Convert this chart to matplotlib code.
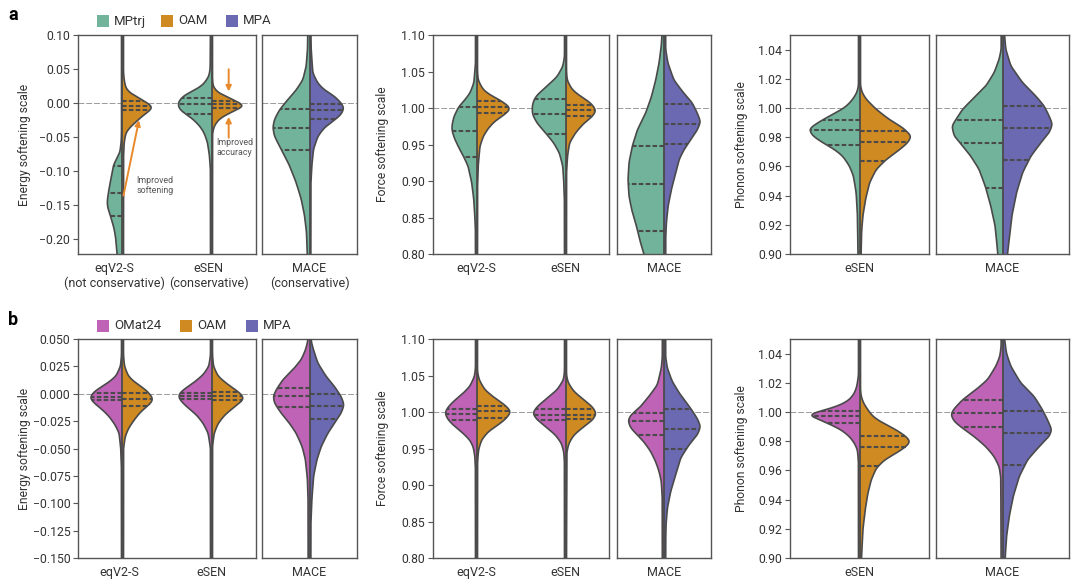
import numpy as np
import matplotlib
matplotlib.use('Agg')
import matplotlib.pyplot as plt
from matplotlib.patches import Rectangle

plt.rcParams['font.family'] = ['Roboto', 'DejaVu Sans']
plt.rcParams['axes.unicode_minus'] = True

# ---------------- colours ----------------
C_MPTRJ = '#72b49b'
C_OAM = '#cf8a22'
C_MPA = '#6b69b2'
C_OMAT = '#bf63b6'
EDGE = '#4a4a4a'
ARROW = '#e8892b'

# ---------------- categories / labels ----------------
models_a = ['eqV2-S\n(not conservative)', 'eSEN\n(conservative)', 'MACE\n(conservative)']
models_b = ['eqV2-S', 'eSEN', 'MACE']
legend_a = ['MPtrj', 'OAM', 'MPA']
legend_b = ['OMat24', 'OAM', 'MPA']

# ---------------- ticks ----------------
energy_a_ticks = [0.10, 0.05, 0.00, -0.05, -0.10, -0.15, -0.20]
energy_a_labels = ['0.10', '0.05', '0.00', '\u22120.05', '\u22120.10', '\u22120.15', '\u22120.20']
energy_b_ticks = [0.050, 0.025, 0.000, -0.025, -0.050, -0.075, -0.100, -0.125, -0.150]
energy_b_labels = ['0.050', '0.025', '0.000', '\u22120.025', '\u22120.050', '\u22120.075',
                   '\u22120.100', '\u22120.125', '\u22120.150']
force_ticks = [1.10, 1.05, 1.00, 0.95, 0.90, 0.85, 0.80]
force_labels = ['1.10', '1.05', '1.00', '0.95', '0.90', '0.85', '0.80']
phonon_ticks = [1.04, 1.02, 1.00, 0.98, 0.96, 0.94, 0.92, 0.90]
phonon_labels = ['1.04', '1.02', '1.00', '0.98', '0.96', '0.94', '0.92', '0.90']

# ---------------- density profiles (y, relative density) and quartiles ----------------
# panel a, energy
a_en_eqv2_mptrj = [(0.11, 3), (-0.045, 3), (-0.058, 4), (-0.073, 8), (-0.091, 27), (-0.107, 33),
                   (-0.12, 38), (-0.131, 42), (-0.145, 46), (-0.155, 44), (-0.166, 36),
                   (-0.185, 25), (-0.20, 20), (-0.23, 15)]
a_en_eqv2_mptrj_q = [-0.166, -0.132, -0.092]
a_en_eqv2_oam = [(0.11, 3), (0.045, 3), (0.034, 5), (0.022, 10), (0.015, 22), (0.007, 50), (0.0, 75),
                 (-0.006, 92), (-0.012, 80), (-0.019, 60), (-0.027, 42), (-0.036, 22),
                 (-0.044, 10), (-0.058, 5), (-0.08, 3), (-0.23, 3)]
a_en_eqv2_oam_q = [-0.010, -0.005, 0.003]
a_en_esen_mptrj = [(0.11, 3), (0.05, 4), (0.039, 8), (0.027, 25), (0.019, 50), (0.012, 80),
                   (0.005, 95), (-0.002, 101), (-0.010, 95), (-0.017, 75), (-0.024, 55),
                   (-0.034, 35), (-0.044, 22), (-0.058, 12), (-0.078, 6), (-0.10, 3), (-0.23, 3)]
a_en_esen_mptrj_q = [-0.016, -0.002, 0.008]
a_en_esen_oam = [(0.11, 3), (0.035, 3), (0.024, 5), (0.015, 20), (0.007, 55), (0.0, 85),
                 (-0.004, 102), (-0.010, 75), (-0.017, 45), (-0.024, 22), (-0.034, 8),
                 (-0.045, 3), (-0.23, 3)]
a_en_esen_oam_q = [-0.007, -0.002, 0.003]
a_en_mace_mptrj = [(0.11, 5), (0.078, 6), (0.054, 10), (0.034, 20), (0.019, 40), (0.005, 65),
                   (-0.010, 90), (-0.024, 105), (-0.036, 110), (-0.049, 105), (-0.068, 85),
                   (-0.092, 60), (-0.117, 40), (-0.141, 25), (-0.165, 15), (-0.19, 9), (-0.23, 6)]
a_en_mace_mptrj_q = [-0.069, -0.037, -0.009]
a_en_mace_mpa = [(0.11, 4), (0.078, 5), (0.044, 10), (0.029, 25), (0.019, 45), (0.01, 75), (0.0, 95),
                 (-0.007, 104), (-0.017, 95), (-0.027, 70), (-0.036, 45), (-0.049, 25),
                 (-0.068, 12), (-0.092, 7), (-0.12, 4), (-0.23, 4)]
a_en_mace_mpa_q = [-0.023, -0.010, -0.002]

# panel a, force
a_f_eqv2_mptrj = [(1.11, 3), (1.06, 3), (1.034, 8), (1.02, 20), (1.011, 35), (1.002, 53), (0.988, 68),
                  (0.975, 74), (0.968, 73), (0.957, 65), (0.943, 50), (0.933, 38), (0.92, 25),
                  (0.897, 14), (0.874, 8), (0.851, 5), (0.83, 3), (0.79, 3)]
a_f_eqv2_mptrj_q = [0.933, 0.968, 1.002]
a_f_eqv2_oam = [(1.11, 3), (1.05, 3), (1.038, 5), (1.025, 20), (1.018, 40), (1.011, 70), (1.004, 92),
                (1.0, 102), (0.995, 95), (0.988, 75), (0.982, 55), (0.972, 35), (0.961, 20),
                (0.947, 10), (0.92, 5), (0.89, 3), (0.79, 3)]
a_f_eqv2_oam_q = [0.993, 1.002, 1.010]
a_f_esen_mptrj = [(1.11, 3), (1.07, 3), (1.057, 8), (1.043, 25), (1.03, 55), (1.018, 85), (1.011, 95),
                  (1.002, 100), (0.991, 99), (0.979, 85), (0.966, 60), (0.952, 35), (0.938, 18),
                  (0.92, 8), (0.897, 5), (0.87, 3), (0.79, 3)]
a_f_esen_mptrj_q = [0.964, 0.992, 1.012]
a_f_esen_oam = [(1.11, 3), (1.05, 3), (1.038, 5), (1.025, 20), (1.016, 45), (1.009, 70), (1.002, 85),
                (0.996, 92), (0.988, 80), (0.979, 55), (0.966, 30), (0.952, 12), (0.934, 6),
                (0.91, 3), (0.79, 3)]
a_f_esen_oam_q = [0.989, 0.997, 1.004]
a_f_mace_mptrj = [(1.11, 5), (1.085, 8), (1.061, 15), (1.038, 25), (1.015, 38), (0.993, 55),
                  (0.970, 80), (0.948, 95), (0.925, 105), (0.902, 108), (0.879, 105), (0.857, 95),
                  (0.834, 80), (0.811, 68), (0.80, 60), (0.79, 56)]
a_f_mace_mptrj_q = [0.8315, 0.896, 0.9478]
a_f_mace_mpa = [(1.11, 5), (1.08, 5), (1.061, 12), (1.038, 30), (1.020, 60), (1.007, 85), (0.993, 100),
                (0.981, 110), (0.970, 100), (0.956, 80), (0.943, 60), (0.929, 45), (0.911, 35),
                (0.888, 22), (0.865, 12), (0.842, 7), (0.82, 5), (0.79, 5)]
a_f_mace_mpa_q = [0.951, 0.9787, 1.0056]

# panel a, phonon
a_ph_esen_mptrj = [(1.06, 3), (1.015, 3), (1.0105, 8), (1.006, 20), (1.001, 40), (0.9968, 70),
                   (0.992, 110), (0.9877, 140), (0.9854, 152), (0.9808, 140), (0.9762, 110),
                   (0.9716, 75), (0.967, 50), (0.9602, 30), (0.9533, 18), (0.9419, 10),
                   (0.9259, 6), (0.89, 4)]
a_ph_esen_mptrj_q = [0.9746, 0.9847, 0.9918]
a_ph_esen_oam = [(1.06, 3), (1.015, 3), (1.0105, 8), (1.006, 20), (0.9991, 50), (0.992, 90),
                 (0.9865, 130), (0.9808, 156), (0.9762, 145), (0.9705, 115), (0.9647, 80),
                 (0.9579, 50), (0.9487, 30), (0.9373, 18), (0.9259, 10), (0.9144, 6), (0.89, 4)]
a_ph_esen_oam_q = [0.9634, 0.9769, 0.9843]
a_ph_mace_mptrj = [(1.06, 4), (1.04, 4), (1.0334, 10), (1.0242, 25), (1.015, 50), (1.006, 90),
                   (0.9991, 120), (0.992, 140), (0.9877, 152), (0.9808, 145), (0.974, 120),
                   (0.967, 95), (0.9579, 70), (0.9453, 50), (0.9327, 35), (0.919, 22),
                   (0.90, 14), (0.89, 12)]
a_ph_mace_mptrj_q = [0.9453, 0.9762, 0.9920]
a_ph_mace_mpa = [(1.06, 5), (1.05, 6), (1.04, 10), (1.0288, 25), (1.0174, 60), (1.0082, 100),
                 (1.0014, 125), (0.9945, 140), (0.9888, 150), (0.983, 140), (0.9762, 115),
                 (0.967, 85), (0.9556, 60), (0.9419, 42), (0.9259, 28), (0.90, 15), (0.89, 13)]
a_ph_mace_mpa_q = [0.9643, 0.9865, 1.0014]

# panel b, energy
b_en_eqv2_omat = [(0.06, 3), (0.035, 3), (0.025, 6), (0.0158, 20), (0.0097, 45), (0.0051, 70),
                  (0.0005, 90), (-0.004, 98), (-0.0086, 85), (-0.0147, 60), (-0.0208, 40),
                  (-0.0285, 22), (-0.036, 10), (-0.051, 5), (-0.07, 3), (-0.16, 3)]
b_en_eqv2_omat_q = [-0.006, -0.003, 0.001]
b_en_eqv2_oam = [(0.06, 3), (0.035, 3), (0.025, 6), (0.0158, 18), (0.0097, 40), (0.0036, 70),
                 (-0.0025, 88), (-0.0056, 92), (-0.0101, 80), (-0.0163, 55), (-0.0239, 35),
                 (-0.0316, 18), (-0.0392, 8), (-0.05, 3), (-0.16, 3)]
b_en_eqv2_oam_q = [-0.0108, -0.0044, 0.001]
b_en_esen_omat = [(0.06, 3), (0.035, 3), (0.025, 8), (0.0173, 25), (0.0097, 55), (0.0036, 85),
                  (-0.001, 100), (-0.0056, 95), (-0.0117, 75), (-0.0193, 45), (-0.027, 25),
                  (-0.036, 10), (-0.05, 3), (-0.16, 3)]
b_en_esen_omat_q = [-0.0047, -0.002, 0.0011]
b_en_esen_oam = [(0.06, 3), (0.035, 3), (0.025, 6), (0.0158, 20), (0.0082, 50), (0.002, 80),
                 (-0.0025, 95), (-0.0056, 96), (-0.0117, 70), (-0.0193, 40), (-0.027, 20),
                 (-0.036, 8), (-0.048, 3), (-0.16, 3)]
b_en_esen_oam_q = [-0.0056, -0.0016, 0.0018]
b_en_mace_omat = [(0.06, 5), (0.048, 5), (0.040, 12), (0.031, 25), (0.0219, 50), (0.0128, 80),
                  (0.0036, 100), (-0.0025, 109), (-0.0086, 105), (-0.0178, 85), (-0.027, 60),
                  (-0.036, 40), (-0.0483, 22), (-0.0605, 12), (-0.079, 6), (-0.10, 4), (-0.16, 4)]
b_en_mace_omat_q = [-0.0117, -0.0025, 0.0048]
b_en_mace_mpa = [(0.06, 5), (0.048, 5), (0.040, 12), (0.028, 25), (0.0158, 50), (0.0066, 75),
                 (-0.0025, 95), (-0.0101, 104), (-0.0178, 95), (-0.027, 75), (-0.036, 55),
                 (-0.0483, 35), (-0.0605, 22), (-0.0758, 12), (-0.097, 7), (-0.12, 4), (-0.16, 4)]
b_en_mace_mpa_q = [-0.0232, -0.011, 0.0]

# panel b, force
b_f_eqv2_omat = [(1.11, 3), (1.06, 3), (1.0487, 6), (1.035, 20), (1.0235, 45), (1.0143, 70),
                 (1.0052, 88), (0.9983, 95), (0.9891, 85), (0.98, 65), (0.9708, 40), (0.9616, 20),
                 (0.9525, 10), (0.94, 5), (0.92, 3), (0.79, 3)]
b_f_eqv2_omat_q = [0.9891, 0.997, 1.0038]
b_f_eqv2_oam = [(1.11, 3), (1.055, 3), (1.044, 8), (1.0304, 25), (1.019, 55), (1.0098, 85),
                (1.0006, 104), (0.9914, 90), (0.9823, 65), (0.9731, 35), (0.9616, 15), (0.948, 6),
                (0.93, 3), (0.79, 3)]
b_f_eqv2_oam_q = [0.9919, 1.0015, 1.0088]
b_f_esen_omat = [(1.11, 3), (1.055, 3), (1.044, 6), (1.0304, 25), (1.019, 55), (1.0075, 85),
                 (0.9983, 99), (0.9891, 85), (0.98, 60), (0.9685, 30), (0.957, 12), (0.945, 5),
                 (0.93, 3), (0.79, 3)]
b_f_esen_omat_q = [0.9891, 0.996, 1.0038]
b_f_esen_oam = [(1.11, 3), (1.05, 3), (1.04, 8), (1.0281, 25), (1.0166, 55), (1.0075, 80),
                (0.9983, 93), (0.9891, 82), (0.98, 55), (0.9685, 25), (0.957, 10), (0.945, 4),
                (0.79, 3)]
b_f_esen_oam_q = [0.99, 0.996, 1.0042]
b_f_mace_omat = [(1.11, 5), (1.075, 5), (1.060, 8), (1.037, 20), (1.0215, 45), (1.005, 75),
                 (0.996, 100), (0.988, 108), (0.978, 100), (0.9685, 80), (0.959, 60), (0.946, 40),
                 (0.932, 25), (0.919, 15), (0.905, 8), (0.88, 5), (0.79, 5)]
b_f_mace_omat_q = [0.969, 0.9877, 0.9993]
b_f_mace_mpa = [(1.11, 5), (1.075, 5), (1.060, 10), (1.0415, 25), (1.023, 50), (1.005, 80),
                (0.991, 100), (0.980, 110), (0.9685, 100), (0.955, 75), (0.937, 50), (0.914, 35),
                (0.891, 20), (0.868, 10), (0.845, 6), (0.82, 5), (0.79, 5)]
b_f_mace_mpa_q = [0.949, 0.977, 1.004]

# panel b, phonon
b_ph_esen_omat = [(1.06, 3), (1.025, 3), (1.0175, 8), (1.013, 15), (1.0084, 30), (1.005, 55),
                  (1.0015, 100), (0.9995, 138), (0.9981, 158), (0.9965, 140), (0.9947, 120),
                  (0.9912, 85), (0.9878, 55), (0.9832, 30), (0.9786, 15), (0.974, 6),
                  (0.965, 3), (0.89, 3)]
b_ph_esen_omat_q = [0.9925, 0.9971, 1.0006]
b_ph_esen_oam = [(1.06, 3), (1.015, 3), (1.0107, 5), (1.0061, 12), (1.0015, 25), (0.9969, 40),
                 (0.9924, 70), (0.9878, 110), (0.9832, 140), (0.9798, 153), (0.9763, 140),
                 (0.9718, 110), (0.9672, 75), (0.9614, 50), (0.9534, 35), (0.9442, 25),
                 (0.9328, 17), (0.919, 10), (0.90, 6), (0.89, 5)]
b_ph_esen_oam_q = [0.9633, 0.9763, 0.9836]
b_ph_mace_omat = [(1.06, 4), (1.045, 4), (1.038, 8), (1.0313, 20), (1.0221, 45), (1.0152, 80),
                  (1.0084, 120), (1.0015, 148), (0.9981, 155), (0.9935, 145), (0.9889, 120),
                  (0.9832, 85), (0.9763, 50), (0.9695, 25), (0.9626, 10), (0.955, 5), (0.89, 4)]
b_ph_mace_omat_q = [0.9894, 0.9992, 1.0084]
b_ph_mace_mpa = [(1.06, 6), (1.05, 6), (1.04, 12), (1.0313, 25), (1.0198, 55), (1.0107, 95),
                 (1.0015, 120), (0.9947, 135), (0.9878, 148), (0.9832, 140), (0.9763, 110),
                 (0.9672, 75), (0.9557, 50), (0.942, 32), (0.9282, 20), (0.9144, 12),
                 (0.90, 8), (0.89, 7)]
b_ph_mace_mpa_q = [0.9635, 0.9855, 1.0008]

# ---------------- layout ----------------
W, H = 1080, 586
PX_PER_UNIT = 89.0          # horizontal scale shared by all panels
DENS_SCALE = 1.0 / 267.0    # relative density -> category units
TXT = '#333333'

fig = plt.figure(figsize=(W / 100, H / 100), dpi=100)
fig.patch.set_facecolor('white')


def make_ax(x0, x1, y0, y1, center):
    ax = fig.add_axes([x0 / W, 1 - y1 / H, (x1 - x0) / W, (y1 - y0) / H])
    half = (x1 - x0) / PX_PER_UNIT / 2.0
    ax.set_xlim(center - half, center + half)
    for s in ax.spines.values():
        s.set_color('#555555')
        s.set_linewidth(1.0)
    ax.tick_params(axis='x', length=0, labelsize=9, pad=6, colors=TXT)
    ax.tick_params(axis='y', length=3.5, width=0.8, labelsize=8.8, pad=2,
                   colors='#555555', labelcolor=TXT)
    return ax


def smooth_profile(pairs, yy, sigma):
    arr = np.array(sorted(pairs))
    w = np.interp(yy, arr[:, 0], arr[:, 1])
    dy = yy[1] - yy[0]
    n = max(1, int(4 * sigma / dy))
    k = np.exp(-0.5 * (np.arange(-n, n + 1) * dy / sigma) ** 2)
    k /= k.sum()
    wp = np.pad(w, n, mode='edge')
    return np.convolve(wp, k, mode='valid')


def half_violin(ax, pos, side, pairs, quarts, color, ylim):
    lo, hi = ylim
    rng = hi - lo
    yy = np.linspace(lo - 0.05 * rng, hi + 0.05 * rng, 900)
    w = smooth_profile(pairs, yy, 0.010 * rng) * DENS_SCALE
    x = pos + side * w
    ax.fill_betweenx(yy, pos, x, facecolor=color, edgecolor='none', zorder=2)
    ax.plot(x, yy, color=EDGE, lw=1.2, zorder=4, solid_capstyle='butt')
    for q in quarts:
        wq = np.interp(q, yy, w)
        ax.plot([pos, pos + side * wq], [q, q], color=EDGE, lw=1.5,
                ls=(0, (2.2, 1.1)), zorder=3)


def center_line(ax, pos):
    ax.axvline(pos, color=EDGE, lw=1.3, zorder=5)


def ref_line(ax, y):
    ax.axhline(y, color='#9a9a9a', lw=0.7, ls=(0, (6, 2)), zorder=1)


def build_row(y0, y1, en_ylim, en_ticks, en_labels, left_col, data, xlabels, label_pos):
    axL = make_ax(78, 256, y0, y1, 0.5)
    axR = make_ax(262, 357, y0, y1, 0.0)
    fL = make_ax(433, 609, y0, y1, 0.5)
    fR = make_ax(617, 711, y0, y1, 0.0)
    pL = make_ax(790, 929, y0, y1, 0.0)
    pR = make_ax(936, 1069, y0, y1, 0.0)

    (en, fo, ph) = data
    # energy panels
    for ax in (axL, axR):
        ax.set_ylim(*en_ylim)
        ax.set_yticks(en_ticks)
        ref_line(ax, 0.0)
    axL.set_yticklabels(en_labels)
    axR.tick_params(axis='y', left=False, labelleft=False)
    axL.set_ylabel('Energy softening scale', fontsize=8.7, color=TXT)
    axL.yaxis.set_label_coords((31 - 78) / 178, 0.5)
    half_violin(axL, 0, -1, en[0][0], en[0][1], left_col, en_ylim)
    half_violin(axL, 0, 1, en[1][0], en[1][1], C_OAM, en_ylim)
    half_violin(axL, 1, -1, en[2][0], en[2][1], left_col, en_ylim)
    half_violin(axL, 1, 1, en[3][0], en[3][1], C_OAM, en_ylim)
    half_violin(axR, 0, -1, en[4][0], en[4][1], left_col, en_ylim)
    half_violin(axR, 0, 1, en[5][0], en[5][1], C_MPA, en_ylim)
    for p in (0, 1):
        center_line(axL, p)
    center_line(axR, 0)
    axL.set_xticks(label_pos)
    axL.set_xticklabels(xlabels[:2], linespacing=1.1)
    axR.set_xticks([0])
    axR.set_xticklabels(xlabels[2:], linespacing=1.1)

    # force panels
    f_ylim = (0.80, 1.10)
    for ax in (fL, fR):
        ax.set_ylim(*f_ylim)
        ax.set_yticks(force_ticks)
        ref_line(ax, 1.0)
    fL.set_yticklabels(force_labels)
    fR.tick_params(axis='y', left=False, labelleft=False)
    fL.set_ylabel('Force softening scale', fontsize=8.7, color=TXT)
    fL.yaxis.set_label_coords((389 - 433) / 176, 0.5)
    half_violin(fL, 0, -1, fo[0][0], fo[0][1], left_col, f_ylim)
    half_violin(fL, 0, 1, fo[1][0], fo[1][1], C_OAM, f_ylim)
    half_violin(fL, 1, -1, fo[2][0], fo[2][1], left_col, f_ylim)
    half_violin(fL, 1, 1, fo[3][0], fo[3][1], C_OAM, f_ylim)
    half_violin(fR, 0, -1, fo[4][0], fo[4][1], left_col, f_ylim)
    half_violin(fR, 0, 1, fo[5][0], fo[5][1], C_MPA, f_ylim)
    for p in (0, 1):
        center_line(fL, p)
    center_line(fR, 0)
    fL.set_xticks([0, 1])
    fL.set_xticklabels(models_b[:2])
    fR.set_xticks([0])
    fR.set_xticklabels(models_b[2:])

    # phonon panels
    p_ylim = (0.90, 1.05)
    for ax in (pL, pR):
        ax.set_ylim(*p_ylim)
        ax.set_yticks(phonon_ticks)
        ref_line(ax, 1.0)
    pL.set_yticklabels(phonon_labels)
    pR.tick_params(axis='y', left=False, labelleft=False)
    pL.set_ylabel('Phonon softening scale', fontsize=8.7, color=TXT)
    pL.yaxis.set_label_coords((748 - 790) / 139, 0.5)
    half_violin(pL, 0, -1, ph[0][0], ph[0][1], left_col, p_ylim)
    half_violin(pL, 0, 1, ph[1][0], ph[1][1], C_OAM, p_ylim)
    half_violin(pR, 0, -1, ph[2][0], ph[2][1], left_col, p_ylim)
    half_violin(pR, 0, 1, ph[3][0], ph[3][1], C_MPA, p_ylim)
    center_line(pL, 0)
    center_line(pR, 0)
    pL.set_xticks([0])
    pL.set_xticklabels(['eSEN'])
    pR.set_xticks([0])
    pR.set_xticklabels(['MACE'])

    return axL


# ---------------- row a ----------------
axA = build_row(35, 254, (-0.222, 0.10), energy_a_ticks, energy_a_labels, C_MPTRJ,
                ([(a_en_eqv2_mptrj, a_en_eqv2_mptrj_q), (a_en_eqv2_oam, a_en_eqv2_oam_q),
                  (a_en_esen_mptrj, a_en_esen_mptrj_q), (a_en_esen_oam, a_en_esen_oam_q),
                  (a_en_mace_mptrj, a_en_mace_mptrj_q), (a_en_mace_mpa, a_en_mace_mpa_q)],
                 [(a_f_eqv2_mptrj, a_f_eqv2_mptrj_q), (a_f_eqv2_oam, a_f_eqv2_oam_q),
                  (a_f_esen_mptrj, a_f_esen_mptrj_q), (a_f_esen_oam, a_f_esen_oam_q),
                  (a_f_mace_mptrj, a_f_mace_mptrj_q), (a_f_mace_mpa, a_f_mace_mpa_q)],
                 [(a_ph_esen_mptrj, a_ph_esen_mptrj_q), (a_ph_esen_oam, a_ph_esen_oam_q),
                  (a_ph_mace_mptrj, a_ph_mace_mptrj_q), (a_ph_mace_mpa, a_ph_mace_mpa_q)]),
                models_a, [-0.09, 0.97])

# ---------------- row b ----------------
axB = build_row(339, 558, (-0.150, 0.050), energy_b_ticks, energy_b_labels, C_OMAT,
                ([(b_en_eqv2_omat, b_en_eqv2_omat_q), (b_en_eqv2_oam, b_en_eqv2_oam_q),
                  (b_en_esen_omat, b_en_esen_omat_q), (b_en_esen_oam, b_en_esen_oam_q),
                  (b_en_mace_omat, b_en_mace_omat_q), (b_en_mace_mpa, b_en_mace_mpa_q)],
                 [(b_f_eqv2_omat, b_f_eqv2_omat_q), (b_f_eqv2_oam, b_f_eqv2_oam_q),
                  (b_f_esen_omat, b_f_esen_omat_q), (b_f_esen_oam, b_f_esen_oam_q),
                  (b_f_mace_omat, b_f_mace_omat_q), (b_f_mace_mpa, b_f_mace_mpa_q)],
                 [(b_ph_esen_omat, b_ph_esen_omat_q), (b_ph_esen_oam, b_ph_esen_oam_q),
                  (b_ph_mace_omat, b_ph_mace_omat_q), (b_ph_mace_mpa, b_ph_mace_mpa_q)]),
                models_b, [-0.035, 1.0])

# ---------------- annotations (row a energy) ----------------
arrow_kw = dict(arrowstyle='-|>', color=ARROW, lw=1.4, mutation_scale=8, shrinkA=0, shrinkB=0)
axA.annotate('', xy=(0.185, -0.0253), xytext=(0.011, -0.136), arrowprops=arrow_kw, zorder=7)
axA.text(0.16, -0.1217, 'Improved\nsoftening', fontsize=6.4, color='#555555',
         ha='left', va='center', linespacing=1.1)
axA.annotate('', xy=(1.193, 0.017), xytext=(1.193, 0.0496), arrowprops=arrow_kw, zorder=7)
axA.annotate('', xy=(1.193, -0.0204), xytext=(1.193, -0.051), arrowprops=arrow_kw, zorder=7)
axA.text(1.058, -0.0657, 'Improved\naccuracy', fontsize=6.4, color='#555555',
         ha='left', va='center', linespacing=1.1)


# ---------------- legends & panel letters ----------------
def legend_row(labels, colors, xs_patch, yc):
    for lab, col, xp in zip(labels, colors, xs_patch):
        fig.add_artist(Rectangle((xp / W, 1 - (yc + 6) / H), 12 / W, 12 / H,
                                 transform=fig.transFigure, facecolor=col, edgecolor='none'))
        fig.text((xp + 17) / W, 1 - yc / H, lab, fontsize=9.5, color=TXT,
                 ha='left', va='center')


legend_row(legend_a, [C_MPTRJ, C_OAM, C_MPA], [97, 161, 226], 21)
legend_row(legend_b, [C_OMAT, C_OAM, C_MPA], [97, 180, 246], 326)

fig.text(8 / W, 1 - 15 / H, 'a', fontsize=13, fontweight='bold', ha='left', va='center')
fig.text(8 / W, 1 - 320 / H, 'b', fontsize=13, fontweight='bold', ha='left', va='center')

fig.savefig('out.png', dpi=100, facecolor='white')
